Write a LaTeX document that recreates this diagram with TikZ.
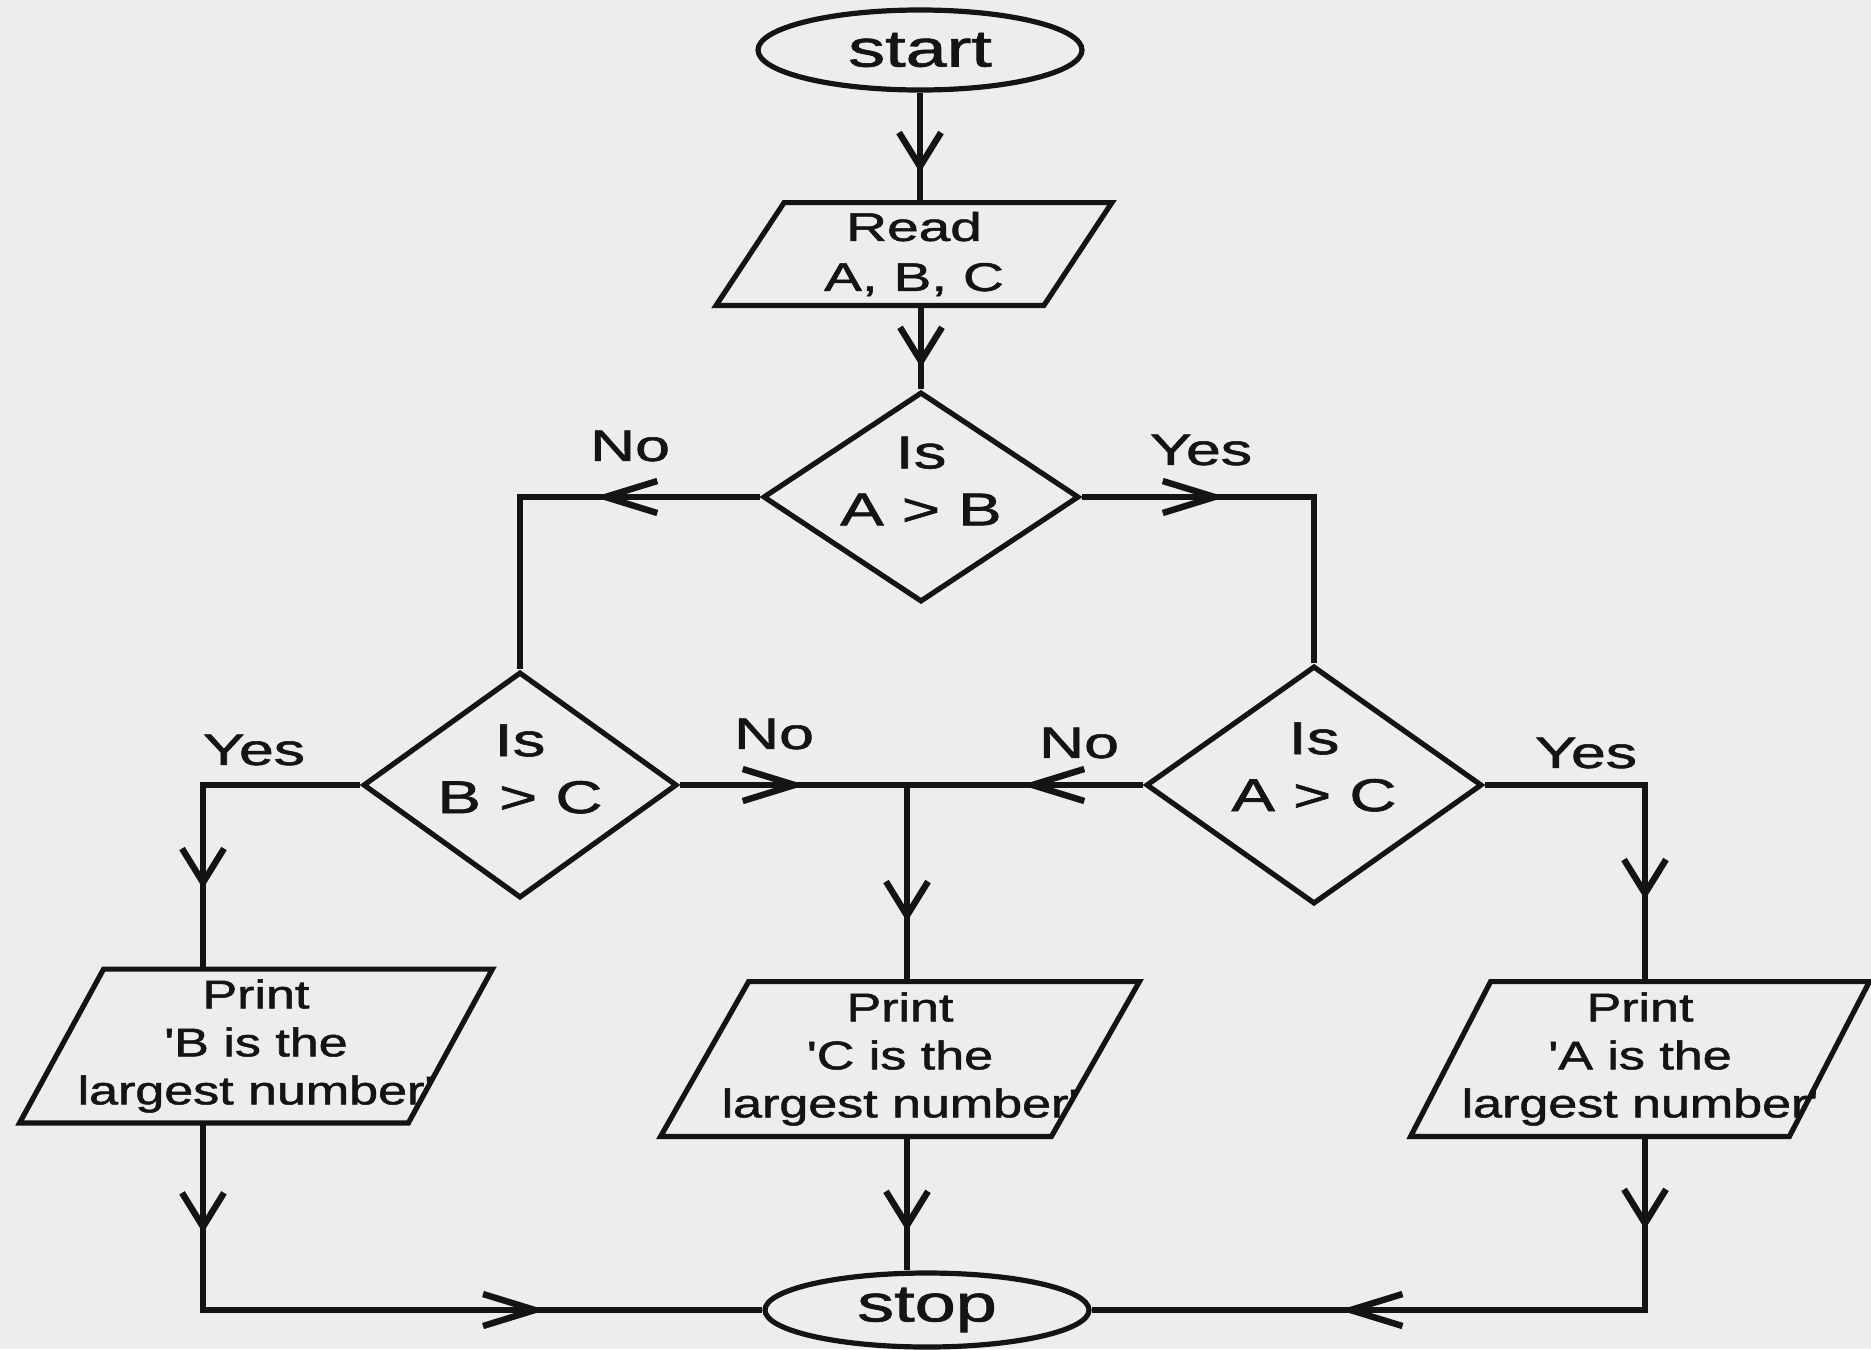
\documentclass[tikz,border=0pt]{standalone}
\usepackage{fontspec}
\setmainfont{Liberation Sans}[FakeBold=1.2]
\usepackage{graphicx}
\usetikzlibrary{shapes.geometric,arrows.meta,decorations.markings}
\definecolor{bgc}{RGB}{237,237,238}
\definecolor{ink}{RGB}{20,20,20}
\newcommand{\hstretch}[2][1.42]{\scalebox{#1}[1]{#2}}
\newcommand{\paraout}[2]{\draw[outline] ([xshift=#2]#1.north west) -- ([xshift=#2]#1.north east) -- ([xshift=-#2]#1.south east) -- ([xshift=-#2]#1.south west) -- cycle;}
\tikzset{
  varr/.tip={Straight Barb[length=17pt,width=21pt]},
  harr/.tip={Straight Barb[length=26pt,width=16pt]},
  conn/.style={draw, color=ink, line width=3.2pt},
  vm/.style={postaction={decorate,decoration={markings,mark=at position #1 with {\arrow{varr}}}}},
  hm/.style={postaction={decorate,decoration={markings,mark=at position #1 with {\arrow{harr}}}}},
  term/.style={ellipse, draw=ink, line width=2.6pt, inner sep=0pt, text=ink, font=\fontsize{26}{30}\selectfont},
  iobox/.style={rectangle, inner sep=0pt, align=center, text=ink, font=\fontsize{20}{24}\selectfont},
  dec/.style={diamond, draw=ink, line width=2.6pt, inner sep=0pt},
  dtext/.style={align=center, inner sep=0pt, text=ink, font=\fontsize{23}{28.5}\selectfont},
  lbl/.style={inner sep=0pt, text=ink, font=\fontsize{22}{26}\selectfont},
  outline/.style={draw=ink, line width=2.6pt, line join=miter}
}
\begin{document}
\begin{tikzpicture}[x=0.5pt,y=-0.5pt]
\useasboundingbox (0,0) rectangle (1871,1349);
\fill[bgc] (0,0) rectangle (1871,1349);

% nodes
\node[term, minimum width=162pt, minimum height=40pt] (start) at (920,50) {\hstretch{start}};
\node[iobox, minimum width=163.5pt, minimum height=51pt, font=\fontsize{20}{25}\selectfont] (read) at (914,254) {\hstretch{Read}\\\hstretch{A, B, C}};
\paraout{read}{17pt}

\node[dec, minimum width=158pt, minimum height=105pt] (d1) at (921,497) {};
\node[dtext] (d1t) at (921,481) {\hstretch{Is}\\\hstretch{A > B}};

\node[dec, minimum width=157pt, minimum height=113pt] (d2) at (520,785) {};
\node[dtext] (d2t) at (520,769) {\hstretch{Is}\\\hstretch{B > C}};

\node[dec, minimum width=168pt, minimum height=119pt] (d3) at (1314,785) {};
\node[dtext] (d3t) at (1314,767) {\hstretch{Is}\\\hstretch{A > C}};

\node[iobox, minimum width=194pt, minimum height=76.5pt] (printB) at (256,1046)
  {\hstretch[1.3]{Print}\\\hstretch[1.3]{\textquotesingle B is the}\\\hstretch[1.3]{largest number\textquotesingle}};
\paraout{printB}{21pt}

\node[iobox, minimum width=195pt, minimum height=77pt] (printC) at (900,1059)
  {\hstretch[1.3]{Print}\\\hstretch[1.3]{\textquotesingle C is the}\\\hstretch[1.3]{largest number\textquotesingle}};
\paraout{printC}{22pt}

\node[iobox, minimum width=189pt, minimum height=77pt] (printA) at (1640,1059)
  {\hstretch[1.3]{Print}\\\hstretch[1.3]{\textquotesingle A is the}\\\hstretch[1.3]{largest number\textquotesingle}};
\paraout{printA}{20pt}

\node[term, minimum width=162pt, minimum height=37pt] (stop) at (927,1310) {\hstretch{stop}};

% junctions
\coordinate (jB) at (203,785);
\coordinate (jC) at (907,785);
\coordinate (jA) at (1645,785);

% connectors
\draw[conn, vm=40pt] (start.south) -- (start.south |- read.north);
\draw[conn, vm=31pt] (d1.north |- read.south) -- (d1.north);
\draw[conn, hm=83pt] (d1.west) -| (d2.north);
\draw[conn, hm=72pt] (d1.east) -| (d3.north);
\draw[conn, vm=130.5pt] (d2.west) -- (jB) -- (jB |- printB.north);
\draw[conn, vm=55pt, hm=265pt] (jB |- printB.south) -- (jB |- stop.west) -- (stop.west);
\draw[conn, hm=63pt, vm=182pt] (d2.east) -- (jC) -- (jC |- printC.north);
\draw[conn, hm=61pt] (d3.west) -- (jC);
\draw[conn, vm=47.5pt] (jC |- printC.south) -- (jC |- stop.north);
\draw[conn, vm=137.5pt] (d3.east) -- (jA) -- (jA |- printA.north);
\draw[conn, vm=46.5pt, hm=239.5pt] (jA |- printA.south) -- (jA |- stop.east) -- (stop.east);

% labels
\node[lbl] (lNo1) at (630,446) {\hstretch{No}};
\node[lbl] (lYes1) at (1201,450) {\hstretch{Yes}};
\node[lbl] (lYes2) at (254,750) {\hstretch{Yes}};
\node[lbl] (lNo2) at (774,734) {\hstretch{No}};
\node[lbl] (lNo3) at (1079,743) {\hstretch{No}};
\node[lbl] (lYes3) at (1586,753) {\hstretch{Yes}};
\end{tikzpicture}
\end{document}
